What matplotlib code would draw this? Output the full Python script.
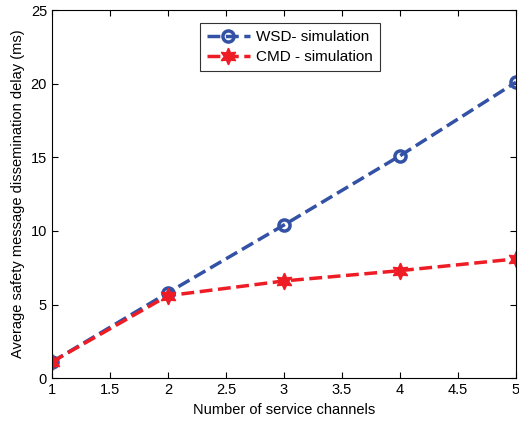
import numpy as np
from matplotlib import pyplot as plt

channels = [1, 2, 3, 4, 5]
wsd_delay = [1.1, 5.8, 10.4, 15.1, 20.1]
cmd_delay = [1.1, 5.6, 6.6, 7.3, 8.1]

plt.rcParams['font.family'] = 'Liberation Sans'
plt.rcParams['font.size'] = 10.5

fig = plt.figure(figsize=(5.19, 4.22), dpi=100)
ax = fig.add_axes([0.1, 0.104, 0.894, 0.872])

ax.plot(channels, wsd_delay, '--o', color='#3352a5', lw=2.5, ms=8,
        mfc='none', mew=2.5, label='WSD- simulation')
ax.plot(channels, cmd_delay, '--', marker=(6, 1, 0), color='#ee1c25',
        lw=2.5, ms=12, label='CMD - simulation')

ax.set_xlim(1, 5)
ax.set_ylim(0, 25)
ax.set_xticks(np.arange(1, 5.01, 0.5))
ax.set_xticklabels(['1', '1.5', '2', '2.5', '3', '3.5', '4', '4.5', '5'])
ax.set_yticks([0, 5, 10, 15, 20, 25])
ax.tick_params(direction='in', top=True, right=True, length=4)
ax.set_xlabel('Number of service channels')
ax.set_ylabel('Average safety message dissemination delay (ms)')

leg = ax.legend(loc='upper center', bbox_to_anchor=(0.513, 0.985),
                fancybox=False, edgecolor='black', handlelength=2.8,
                borderpad=0.45, labelspacing=0.4, fontsize=11,
                handletextpad=0.4)
leg.get_frame().set_linewidth(0.8)

plt.savefig('out.png')
